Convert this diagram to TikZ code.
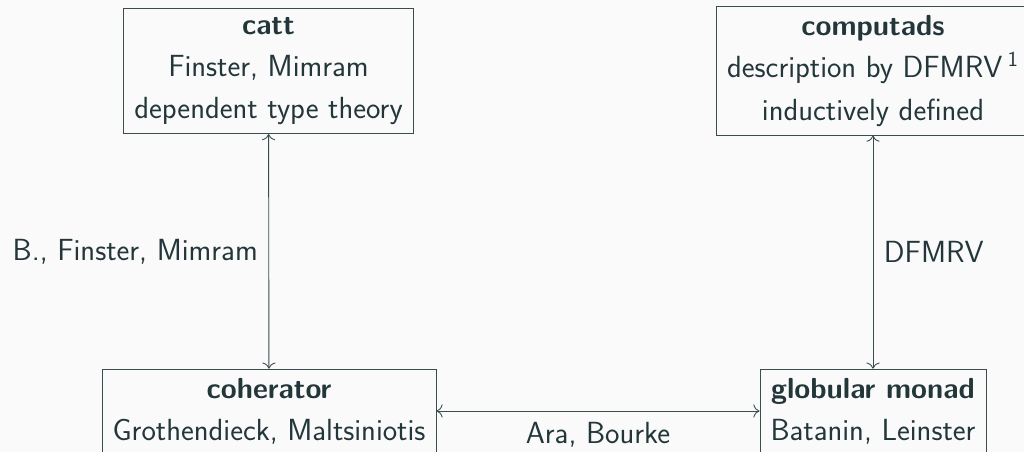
\documentclass[tikz,border=0pt]{standalone}
\usepackage{xcolor}
\usetikzlibrary{arrows.meta}
\newcommand{\headline}[1]{{\fontsize{16.5}{24}\selectfont\bfseries #1}}

\begin{document}
\begin{tikzpicture}[x=0.02cm, y=-0.02cm, line width=0.5pt,
        every node/.style={font=\sffamily\fontsize{17.4}{24}\selectfont, text=mteal},
        framebox/.style={draw=mline, align=center, inner xsep=6pt, inner ysep=5pt},
        link/.style={{To[length=3.5pt,width=7.5pt]}-{To[length=3.5pt,width=7.5pt]}, draw=mline},
        linklabel/.style={inner sep=6pt}]
        % Define colors
        \definecolor{mteal}{HTML}{23373B}
        \definecolor{mline}{HTML}{3A4C50}
        \definecolor{mbg}{HTML}{FAFAFA}

        % Background and frame
        \fill[mbg] (0,0) rectangle (1024,452);
        \useasboundingbox (0,0) rectangle (1024,452);
        \clip (0,0) rectangle (1024,452);

        % --- TOP ROW ---
        \node[framebox] (catt) at (268.5,71) {\headline{catt}\\ Finster, Mimram\\ dependent type theory};
        \node[framebox] (computads) at (873,71) {\headline{computads}\\ description by DFMRV\,\textsuperscript{1}\\ inductively defined};

        % --- BOTTOM ROW ---
        \node[framebox] (coherator) at (269,411) {\headline{coherator}\\ Grothendieck, Maltsiniotis};
        \node[framebox] (globular) at (873,411) {\headline{globular monad}\\ Batanin, Leinster};

        % Connections
        \draw[link] (catt) -- node[linklabel, midway, left] {B., Finster, Mimram} (coherator);
        \draw[link] (computads) -- node[linklabel, midway, right] {DFMRV} (globular);
        \draw[link] (coherator) -- node[linklabel, midway, below] {Ara, Bourke} (globular);

    \end{tikzpicture}
\end{document}
